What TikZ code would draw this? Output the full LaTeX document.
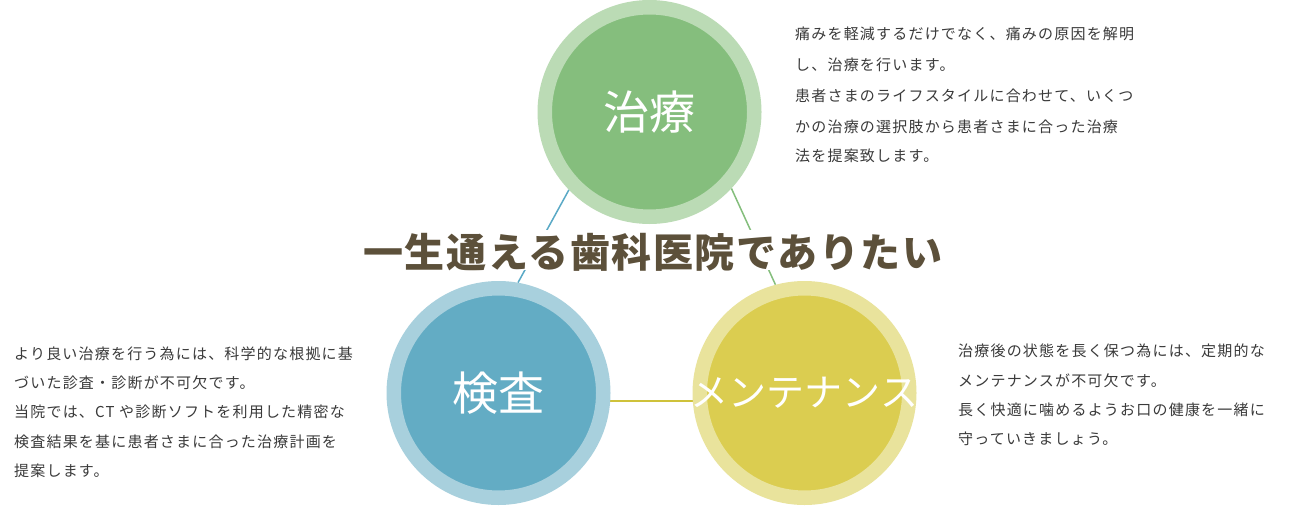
\documentclass[tikz,border=0pt]{standalone}
\usepackage{fontspec}
\newfontfamily\jpfont{Noto Sans CJK JP}
\newfontfamily\bodyjp[LetterSpace=8]{Noto Sans CJK JP}
\newfontfamily\titlejp[LetterSpace=4]{Noto Sans CJK JP}
\usetikzlibrary{calc}
\definecolor{gOut}{HTML}{BBDBB5}
\definecolor{gIn}{HTML}{85BE7D}
\definecolor{bOut}{HTML}{A8D0DD}
\definecolor{bIn}{HTML}{63ACC4}
\definecolor{yOut}{HTML}{E9E39C}
\definecolor{yIn}{HTML}{DBCD50}
\definecolor{gLine}{HTML}{84BE7C}
\definecolor{bLine}{HTML}{5AA9C6}
\definecolor{yLine}{HTML}{CFC23A}
\definecolor{titleC}{HTML}{5C503A}
\definecolor{txtC}{HTML}{3A3A3A}
\pgfdeclarelayer{bg}
\pgfdeclarelayer{lines}
\pgfsetlayers{bg,lines,main}
\tikzset{
  ring/.style={circle, minimum size=209.5pt, line width=14.5pt, outer sep=7.25pt, inner sep=0pt, text=white},
  bodytxt/.style={anchor=west, inner sep=0pt, text height=13.2pt, text depth=1.8pt, text=txtC, font=\bodyjp\fontsize{15}{18}\selectfont},
  titletxt/.style={inner xsep=2pt, inner ysep=0pt, fill=white, text height=37pt, text depth=3pt, font=\titlejp\bfseries\fontsize{40}{44}\selectfont},
  conn/.style={line width=1.5pt}
}
\begin{document}
\begin{tikzpicture}[x=1pt,y=-1pt]
\useasboundingbox (0,0) rectangle (1300,506);
\begin{pgfonlayer}{bg}
\fill[white] (0,0) rectangle (1300,506);
\end{pgfonlayer}
% circles
\node[ring, fill=gIn, draw=gOut, font=\jpfont\fontsize{46}{50}\selectfont] (g) at (649.5,112) {治療};
\node[ring, fill=bIn, draw=bOut, font=\jpfont\fontsize{46}{50}\selectfont] (b) at (498.5,393) {検査};
\node[ring, fill=yIn, draw=yOut, font=\jpfont\fontsize{38}{42}\selectfont] (y) at (804.5,393) {\makebox[0pt]{メンテナンス}};
% connectors
\begin{pgfonlayer}{lines}
\draw[conn, draw=bLine] (g.-136.3) -- (b.80.4);
\draw[conn, draw=gLine] (g.-43.7) -- (y.105);
\draw[conn, draw=yLine] (b.-4.1) -- (y.184.1);
\end{pgfonlayer}
% title
\node[titletxt, text=titleC] (title) at (653,250) {一生通える歯科医院でありたい};
% top-right text
\node[bodytxt] (t1) at (795,34) {痛みを軽減するだけでなく、痛みの原因を解明};
\node[bodytxt] (t2) at (795,65) {し、治療を行います。};
\node[bodytxt] (t3) at (795,96) {患者さまのライフスタイルに合わせて、いくつ};
\node[bodytxt] (t4) at (795,126.5) {かの治療の選択肢から患者さまに合った治療};
\node[bodytxt] (t5) at (795,156) {法を提案致します。};
% left text
\node[bodytxt] (l1) at (14,354) {より良い治療を行う為には、科学的な根拠に基};
\node[bodytxt] (l2) at (14,383) {づいた診査・診断が不可欠です。};
\node[bodytxt] (l3) at (14,412) {当院では、CT や診断ソフトを利用した精密な};
\node[bodytxt] (l4) at (14,441.5) {検査結果を基に患者さまに合った治療計画を};
\node[bodytxt] (l5) at (14,471) {提案します。};
% right text
\node[bodytxt] (r1) at (958,351) {治療後の状態を長く保つ為には、定期的な};
\node[bodytxt] (r2) at (958,380.5) {メンテナンスが不可欠です。};
\node[bodytxt] (r3) at (958,409.5) {長く快適に噛めるようお口の健康を一緒に};
\node[bodytxt] (r4) at (958,438.5) {守っていきましょう。};
\end{tikzpicture}
\end{document}
